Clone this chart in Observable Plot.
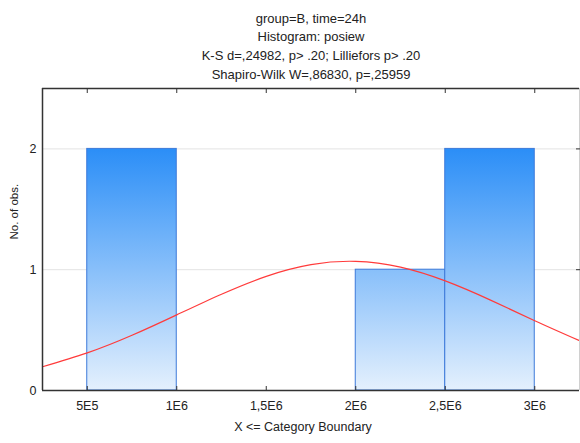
<!DOCTYPE html>
<html>
<head>
<meta charset="utf-8">
<script src="https://cdn.jsdelivr.net/npm/d3@7"></script>
<script src="https://cdn.jsdelivr.net/npm/@observablehq/plot@0.6"></script>
<style>
  body { margin: 0; background: #fff; }
  svg { font-family: "Liberation Sans", Arial, sans-serif; }
</style>
</head>
<body>
<div id="chart"></div>
<script>
// Title lines
const titleLines = [
  "group=B, time=24h",
  "Histogram: posiew",
  "K-S d=,24982, p> .20; Lilliefors p> .20",
  "Shapiro-Wilk W=,86830, p=,25959"
];

// Histogram bins (category boundaries) and counts
const binStart = [500000, 2000000, 2500000];
const binEnd   = [1000000, 2500000, 3000000];
const counts   = [2, 1, 2];

// Expected normal curve
const curveX = [250000, 500000, 750000, 1000000, 1250000, 1500000, 1750000, 2000000, 2250000, 2500000, 2750000, 3000000, 3250000];
const curveY = [0.197, 0.311, 0.457, 0.626, 0.797, 0.945, 1.042, 1.069, 1.021, 0.907, 0.750, 0.578, 0.413];

// Axis ticks
const xTicks = [500000, 1000000, 1500000, 2000000, 2500000, 3000000];
const xTickLabels = ["5E5", "1E6", "1,5E6", "2E6", "2,5E6", "3E6"];
const yTicks = [0, 1, 2];
const xDomain = [250000, 3250000];
const yDomain = [0, 2.5];

const bins = binStart.map((s, i) => ({x1: s, x2: binEnd[i], y: counts[i]}));
const curve = curveX.map((x, i) => ({x, y: curveY[i]}));
const xLabel = new Map(xTicks.map((t, i) => [t, xTickLabels[i]]));

const gradientDef = (index, scales) => {
  const defs = d3.create("svg:defs");
  const g = defs.append("linearGradient")
    .attr("id", "barGrad")
    .attr("gradientUnits", "userSpaceOnUse")
    .attr("x1", 0).attr("x2", 0)
    .attr("y1", scales.y(2)).attr("y2", scales.y(0));
  g.append("stop").attr("offset", "0%").attr("stop-color", "#2b8ef7");
  g.append("stop").attr("offset", "100%").attr("stop-color", "#e4f0fd");
  return defs.node();
};

const titleMarks = titleLines.map((t, i) =>
  Plot.text([t], {frameAnchor: "top", dy: -75 + i * 18.6, fontSize: 13, fill: "#222"}));

const plot = Plot.plot({
  width: 580,
  height: 443,
  marginTop: 88,
  marginLeft: 42,
  marginRight: 1,
  marginBottom: 53,
  style: {fontFamily: "Liberation Sans, Arial, sans-serif", fontSize: "12px", color: "#222"},
  x: {domain: xDomain, ticks: xTicks},
  y: {domain: yDomain, ticks: yTicks},
  marks: [
    gradientDef,
    Plot.ruleY([1, 2], {stroke: "#e3e3e3", strokeWidth: 1}),
    Plot.rectY(bins, {x1: "x1", x2: "x2", y: "y", fill: "url(#barGrad)", stroke: "#3d7ad9", strokeWidth: 1}),
    Plot.line(curve, {x: "x", y: "y", stroke: "#ff3b3b", strokeWidth: 1.2, curve: "natural"}),
    // frame
    Plot.ruleX([xDomain[1]], {stroke: "#d0d0d0", strokeWidth: 1}),
    Plot.ruleY([yDomain[1]], {stroke: "#333", strokeWidth: 1.5}),
    Plot.ruleY([0], {stroke: "#333", strokeWidth: 1.5}),
    Plot.ruleX([xDomain[0]], {stroke: "#333", strokeWidth: 1.5}),
    // axes
    Plot.axisX(xTicks, {anchor: "bottom", tickSize: -4, tickPadding: 15, stroke: "#333",
      tickFormat: d => xLabel.get(d), fontSize: 12.5, label: null}),
    Plot.axisX(xTicks, {anchor: "top", tickSize: -4, stroke: "#333", tickFormat: () => "", label: null}),
    Plot.axisY(yTicks, {anchor: "left", tickSize: 0, tickPadding: 6, fontSize: 12.5, tickFormat: d => String(d), label: null}),
    Plot.axisY([1, 2], {anchor: "right", tickSize: -4, stroke: "#333", tickFormat: () => "", label: null}),
    Plot.text(["X <= Category Boundary"], {frameAnchor: "bottom", dy: 40, dx: -8, fontSize: 12.5, fill: "#222"}),
    Plot.text(["No. of obs."], {frameAnchor: "left", dx: -28, rotate: -90, fontSize: 11.5, fill: "#222"}),
    ...titleMarks
  ]
});

document.getElementById("chart").appendChild(plot);
</script>
</body>
</html>
